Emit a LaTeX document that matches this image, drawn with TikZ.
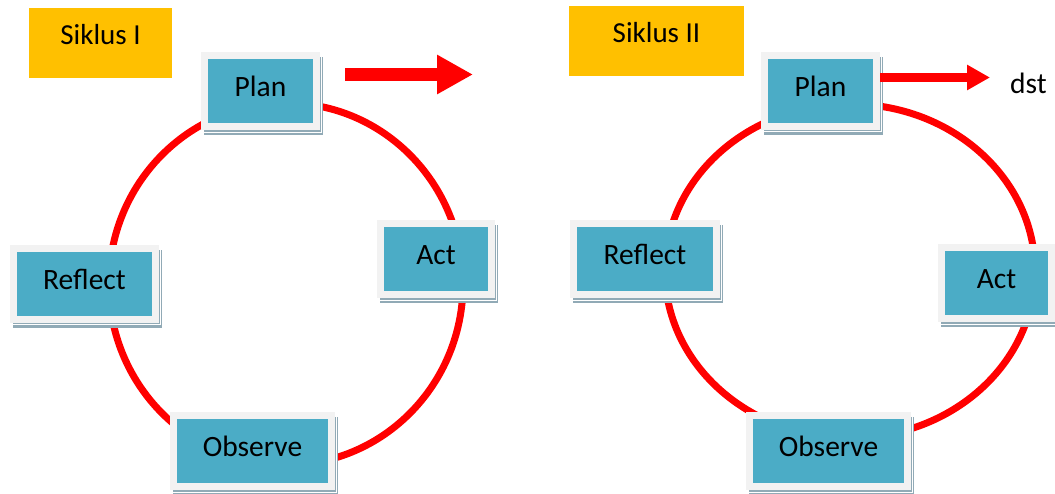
\documentclass[tikz,border=0pt]{standalone}
\usepackage{fontspec}
\setmainfont{Carlito}
\usetikzlibrary{arrows.meta}
\definecolor{tealbox}{HTML}{4BACC6}
\definecolor{framec}{HTML}{F2F2F2}
\definecolor{shadowc}{HTML}{91AAB6}
\definecolor{orangebox}{HTML}{FFC000}
\definecolor{ringred}{HTML}{FF0000}
\pgfdeclarelayer{bg}
\pgfdeclarelayer{sh}
\pgfsetlayers{bg,sh,main}
\tikzset{
  stagebox/.style={draw=framec, line width=7pt, fill=tealbox, minimum height=71pt,
    inner sep=0pt, font=\fontsize{29.5}{33}\selectfont, text height=19pt, text depth=8pt},
  cyclebox/.style={fill=orangebox, minimum height=70pt, inner sep=0pt,
    font=\fontsize{29}{33}\selectfont, text height=19pt, text depth=16pt},
  ring/.style={draw=ringred, line width=7pt},
  bigarrow/.style={draw=ringred, line width=13pt, -{Triangle[length=36pt,width=37pt]}},
  smallarrow/.style={draw=ringred, line width=9pt, -{Triangle[length=23pt,width=24pt]}},
}
\newcommand\stage[4]{%
  \node[stagebox, minimum width=#3] (#1) at (#2) {#4};
  \begin{pgfonlayer}{sh}
    \fill[shadowc] ([shift={(2.5pt,-5pt)}]#1.south west) rectangle ([shift={(2.5pt,-5pt)}]#1.north east);
    \draw[white, line width=0.8pt] ([shift={(1.2pt,-2.2pt)}]#1.south west) rectangle ([shift={(1.2pt,-2.2pt)}]#1.north east);
  \end{pgfonlayer}}
\begin{document}
\begin{tikzpicture}[x=1pt,y=-1pt]
\useasboundingbox (0,0) rectangle (1055,493);

% cycle labels
\node[cyclebox, minimum width=143pt] (s1) at (100.5,43) {Siklus I};
\node[cyclebox, minimum width=175pt] (s2) at (656.5,41) {Siklus II};

% rings
\begin{pgfonlayer}{bg}
\draw[ring] (286,284) ellipse [x radius=177pt, y radius=181pt];
\draw[ring] (850,271) ellipse [x radius=185pt, y radius=167pt];
\end{pgfonlayer}

% cycle I
\stage{p1}{260.5,91}{112pt}{Plan}
\stage{a1}{436,259}{111pt}{Act}
\stage{r1}{84.5,283.5}{142pt}{Reflect}
\stage{o1}{252.5,451}{158pt}{Observe}

% cycle II
\stage{p2}{820.5,90.5}{112pt}{Plan}
\stage{a2}{996.5,283}{110pt}{Act}
\stage{r2}{645,259}{143pt}{Reflect}
\stage{o2}{828.5,451}{158pt}{Observe}

% arrows
\coordinate (bigstart) at (345,74.5);
\coordinate (bigend) at (473,74.5);
\draw[bigarrow] (bigstart) -- (bigend);

\node[anchor=base west, inner sep=0pt, inner xsep=20pt, font=\fontsize{29.5}{33}\selectfont,
  text height=18pt, text depth=6pt] (dst) at (990,93) {dst};
\draw[smallarrow] ([yshift=13pt]p2.east) -- ([yshift=9.5pt]dst.west);
\end{tikzpicture}
\end{document}
